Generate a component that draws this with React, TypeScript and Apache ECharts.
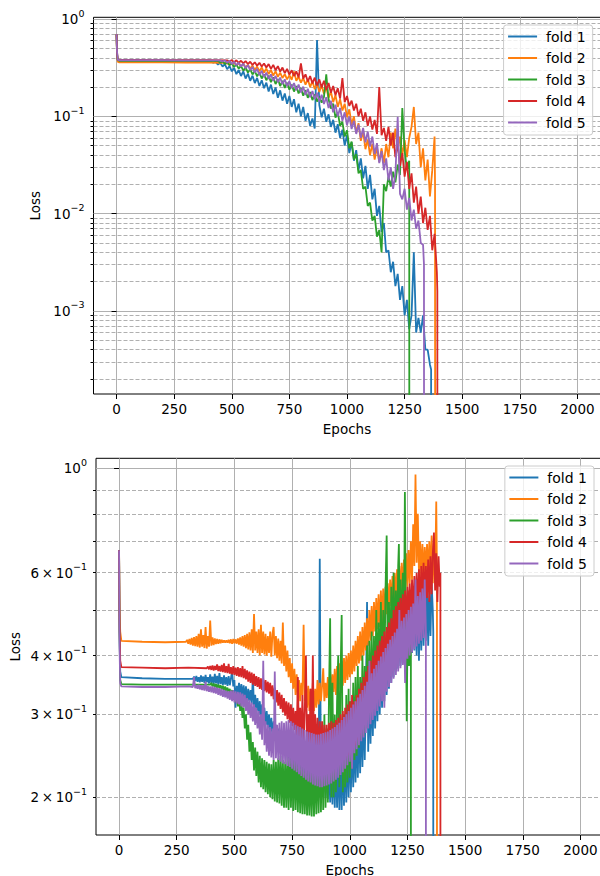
import React, { useEffect, useRef } from 'react';
import * as echarts from 'echarts';

const foldNames = ['fold 1', 'fold 2', 'fold 3', 'fold 4', 'fold 5'];
const foldColors = ['#1f77b4', '#ff7f0e', '#2ca02c', '#d62728', '#9467bd'];
const epochTicks = [0, 250, 500, 750, 1000, 1250, 1500, 1750, 2000];
const topMajorTicks = [1e-3, 1e-2, 1e-1, 1];
const topMinorTicks = [
  2e-4, 3e-4, 4e-4, 5e-4, 6e-4, 7e-4, 8e-4, 9e-4,
  2e-3, 3e-3, 4e-3, 5e-3, 6e-3, 7e-3, 8e-3, 9e-3,
  2e-2, 3e-2, 4e-2, 5e-2, 6e-2, 7e-2, 8e-2, 9e-2,
  0.2, 0.3, 0.4, 0.5, 0.6, 0.7, 0.8, 0.9,
];
const bottomMajorTicks = [1];
const bottomMinorTicks = [0.2, 0.3, 0.4, 0.5, 0.6, 0.7, 0.8, 0.9];
const bottomMinorLabels = [0.2, 0.3, 0.4, 0.6];

// Each curve = explicit [epoch, loss] start points + loss readings on a regular epoch grid + explicit end points.
// ---- top panel (training loss), readings every 10 epochs ----
const trainFold1Start: [number, number][] = [[0,0.70],[2,0.45],[5,0.375],[10,0.37],[100,0.369],[200,0.369],[300,0.368],[400,0.366]];
const trainFold1From = 410;
const trainFold1Loss = [0.364,0.356,0.362,0.34,0.355,0.325,0.345,0.305,0.33,0.29,0.315,0.272,0.3,0.26,0.29,0.245,0.275,0.232,0.262,0.22,0.248,0.205,0.235,0.195,0.222,0.18,0.212,0.17,0.198,0.155,0.185,0.145,0.172,0.135,0.162,0.125,0.15,0.11,0.135,0.1,0.125,0.09,0.108,0.08,0.095,0.075,0.61,0.13,0.098,0.12,0.088,0.105,0.078,0.092,0.068,0.083,0.06,0.073,0.05,0.064,0.042,0.054,0.035,0.045,0.028,0.037,0.023,0.031,0.018,0.025,0.014,0.018,0.0095,0.012,0.0065,0.008,0.004,0.0042,0.0025,0.0032,0.0018,0.0024,0.0013,0.0018,0.0009,0.0013,0.00065,0.0009,0.004,0.0006,0.00085,0.0006,0.0009,0.0004,0.0004,0.00028];
const trainFold1End: [number, number][] = [[1365,0.00025],[1366,1e-9]];

const trainFold2Start: [number, number][] = [[0,0.70],[2,0.43],[5,0.365],[10,0.36],[100,0.359],[200,0.359],[300,0.358],[400,0.357]];
const trainFold2From = 470;
const trainFold2Loss = [0.355,0.348,0.357,0.342,0.354,0.335,0.35,0.328,0.345,0.32,0.338,0.31,0.332,0.3,0.325,0.29,0.318,0.282,0.31,0.272,0.3,0.262,0.292,0.255,0.282,0.248,0.272,0.24,0.265,0.238,0.29,0.232,0.255,0.222,0.248,0.212,0.24,0.2,0.23,0.19,0.22,0.178,0.21,0.17,0.2,0.155,0.18,0.14,0.165,0.125,0.15,0.115,0.135,0.098,0.118,0.082,0.1,0.068,0.085,0.056,0.07,0.046,0.058,0.04,0.052,0.036,0.048,0.034,0.047,0.033,0.052,0.038,0.068,0.047,0.075,0.045,0.062,0.04,0.057,0.038,0.06,0.078,0.125,0.052,0.068,0.03,0.047,0.022,0.036,0.015,0.028,0.062];
const trainFold2End: [number, number][] = [[1382,0.02],[1383,1e-9]];

const trainFold3Start: [number, number][] = [[0,0.70],[2,0.44],[5,0.38],[10,0.375],[100,0.375],[200,0.374],[300,0.374],[400,0.373]];
const trainFold3From = 440;
const trainFold3Loss = [0.37,0.358,0.368,0.345,0.36,0.335,0.352,0.322,0.34,0.31,0.33,0.295,0.318,0.282,0.305,0.27,0.292,0.258,0.282,0.245,0.27,0.235,0.262,0.225,0.252,0.215,0.242,0.205,0.232,0.196,0.222,0.188,0.212,0.18,0.205,0.172,0.196,0.163,0.186,0.155,0.178,0.147,0.168,0.142,0.16,0.138,0.158,0.27,0.15,0.12,0.135,0.097,0.11,0.08,0.088,0.062,0.072,0.047,0.055,0.036,0.041,0.026,0.028,0.018,0.019,0.012,0.013,0.0085,0.0095,0.0058,0.0068,0.004,0.02,0.017,0.024,0.019,0.027,0.021,0.032,0.025,0.122,0.045,0.028,0.035];
const trainFold3End: [number, number][] = [[1271,1e-9]];

const trainFold4Start: [number, number][] = [[0,0.70],[2,0.46],[5,0.385],[10,0.38],[100,0.38],[200,0.379],[300,0.379],[400,0.378]];
const trainFold4From = 480;
const trainFold4Loss = [0.377,0.366,0.379,0.36,0.377,0.355,0.373,0.35,0.37,0.345,0.365,0.338,0.36,0.332,0.355,0.325,0.35,0.318,0.345,0.308,0.338,0.298,0.328,0.288,0.318,0.278,0.308,0.268,0.298,0.26,0.29,0.252,0.35,0.245,0.27,0.228,0.26,0.218,0.25,0.208,0.24,0.198,0.232,0.188,0.22,0.175,0.205,0.165,0.195,0.152,0.247,0.14,0.162,0.128,0.145,0.115,0.135,0.1,0.12,0.09,0.11,0.08,0.1,0.073,0.092,0.066,0.2,0.064,0.076,0.056,0.078,0.05,0.068,0.038,0.052,0.031,0.042,0.024,0.034,0.018,0.026,0.013,0.019,0.01,0.015,0.008,0.0115,0.0068,0.0095,0.0042,0.0062,0.0025];
const trainFold4End: [number, number][] = [[1392,0.0016],[1393,1e-9]];

const trainFold5Start: [number, number][] = [[0,0.70],[2,0.47],[5,0.383],[10,0.378],[100,0.378],[200,0.378],[300,0.377],[400,0.377]];
const trainFold5From = 450;
const trainFold5Loss = [0.376,0.366,0.377,0.356,0.372,0.345,0.364,0.336,0.357,0.326,0.348,0.312,0.336,0.298,0.322,0.282,0.308,0.266,0.294,0.254,0.282,0.242,0.27,0.232,0.26,0.224,0.25,0.214,0.24,0.204,0.23,0.195,0.22,0.186,0.212,0.176,0.202,0.166,0.192,0.157,0.182,0.15,0.175,0.142,0.167,0.134,0.157,0.122,0.145,0.11,0.132,0.1,0.122,0.09,0.11,0.081,0.1,0.074,0.09,0.066,0.082,0.06,0.076,0.054,0.07,0.049,0.062,0.041,0.053,0.033,0.044,0.028,0.037,0.022,0.03,0.018,0.025,0.099,0.016,0.014,0.018,0.011,0.0145,0.0085,0.011,0.007,0.0085,0.005,0.0048];
const trainFold5End: [number, number][] = [[1334,0.003],[1335,1e-9]];

// ---- bottom panel (validation loss), readings every 5 epochs ----
const valFold1Start: [number, number][] = [[0,0.67],[2,0.45],[5,0.37],[10,0.36],[100,0.358],[200,0.357]];
const valFold1From = 320;
const valFold1Loss = [0.357,0.361,0.353,0.362,0.352,0.36,0.351,0.363,0.352,0.361,0.35,0.364,0.351,0.36,0.349,0.365,0.35,0.361,0.348,0.366,0.349,0.362,0.347,0.367,0.348,0.36,0.346,0.363,0.347,0.36,0.345,0.362,0.346,0.358,0.372,0.344,0.355,0.31,0.345,0.332,0.35,0.328,0.348,0.325,0.346,0.322,0.344,0.318,0.34,0.32,0.338,0.315,0.362,0.31,0.33,0.305,0.325,0.3,0.32,0.295,0.315,0.29,0.31,0.285,0.305,0.28,0.3,0.275,0.295,0.27,0.29,0.265,0.285,0.26,0.28,0.255,0.278,0.25,0.275,0.248,0.272,0.245,0.27,0.242,0.268,0.24,0.265,0.237,0.262,0.234,0.26,0.232,0.258,0.23,0.255,0.227,0.252,0.225,0.25,0.222,0.248,0.22,0.245,0.218,0.243,0.215,0.24,0.213,0.238,0.21,0.642,0.215,0.245,0.205,0.24,0.2,0.245,0.198,0.24,0.195,0.245,0.193,0.25,0.19,0.245,0.19,0.25,0.188,0.255,0.188,0.258,0.192,0.26,0.195,0.265,0.2,0.27,0.205,0.275,0.21,0.28,0.215,0.29,0.22,0.3,0.225,0.31,0.232,0.32,0.24,0.33,0.52,0.25,0.34,0.26,0.35,0.27,0.36,0.28,0.37,0.29,0.38,0.3,0.39,0.31,0.4,0.32,0.41,0.33,0.42,0.34,0.43,0.35,0.44,0.36,0.45,0.37,0.46,0.375,0.47,0.38,0.48,0.385,0.57,0.39,0.49,0.395,0.5,0.4,0.51,0.405,0.52,0.41,0.53,0.4,0.54,0.39,0.55,0.41,0.55,0.42,0.56,0.43,0.56,0.42,0.55,0.44,0.57,0.5];
const valFold1End: [number, number][] = [[1362,0.45],[1363,1e-9]];

const valFold2Start: [number, number][] = [[0,0.67],[2,0.5],[5,0.45],[10,0.43],[100,0.428],[200,0.427]];
const valFold2From = 290;
const valFold2Loss = [0.428,0.432,0.424,0.434,0.422,0.436,0.42,0.438,0.419,0.44,0.418,0.445,0.416,0.455,0.418,0.442,0.415,0.46,0.414,0.44,0.418,0.475,0.42,0.437,0.421,0.435,0.423,0.434,0.424,0.433,0.425,0.432,0.426,0.431,0.426,0.431,0.426,0.432,0.425,0.433,0.424,0.434,0.425,0.433,0.424,0.435,0.422,0.437,0.42,0.44,0.418,0.442,0.415,0.445,0.412,0.448,0.41,0.455,0.405,0.49,0.41,0.45,0.405,0.455,0.4,0.465,0.405,0.45,0.402,0.445,0.4,0.44,0.405,0.45,0.398,0.445,0.46,0.4,0.44,0.395,0.435,0.39,0.43,0.385,0.47,0.38,0.42,0.37,0.41,0.36,0.395,0.35,0.385,0.34,0.375,0.33,0.365,0.325,0.355,0.32,0.35,0.33,0.465,0.32,0.35,0.31,0.345,0.305,0.34,0.31,0.35,0.305,0.34,0.31,0.355,0.315,0.35,0.32,0.345,0.376,0.32,0.35,0.325,0.36,0.32,0.37,0.33,0.365,0.335,0.375,0.33,0.38,0.34,0.385,0.34,0.39,0.345,0.395,0.35,0.4,0.355,0.405,0.36,0.41,0.365,0.42,0.37,0.43,0.38,0.44,0.385,0.45,0.39,0.46,0.4,0.47,0.41,0.48,0.42,0.5,0.43,0.51,0.44,0.52,0.45,0.53,0.455,0.54,0.46,0.55,0.47,0.555,0.48,0.56,0.49,0.57,0.5,0.58,0.51,0.59,0.52,0.6,0.525,0.61,0.53,0.62,0.54,0.63,0.55,0.64,0.555,0.66,0.56,0.67,0.57,0.7,0.58,0.76,0.62,0.97,0.63,0.8,0.6,0.7,0.59,0.69,0.58,0.68,0.6,0.69,0.59,0.7,0.6,0.72,0.57,0.68,0.58,0.85];
const valFold2End: [number, number][] = [[1378,0.6],[1380,1e-9]];

const valFold3Start: [number, number][] = [[0,0.67],[2,0.45],[5,0.355],[10,0.348],[100,0.347],[200,0.347],[300,0.347]];
const valFold3From = 395;
const valFold3Loss = [0.347,0.35,0.344,0.349,0.343,0.348,0.342,0.347,0.341,0.346,0.339,0.345,0.337,0.344,0.335,0.342,0.333,0.34,0.328,0.338,0.322,0.334,0.318,0.33,0.312,0.326,0.305,0.32,0.295,0.31,0.28,0.3,0.265,0.285,0.25,0.275,0.24,0.262,0.228,0.255,0.222,0.25,0.215,0.245,0.21,0.242,0.208,0.24,0.205,0.238,0.203,0.236,0.2,0.235,0.198,0.24,0.196,0.238,0.195,0.242,0.194,0.245,0.192,0.24,0.19,0.238,0.19,0.245,0.188,0.25,0.19,0.248,0.187,0.25,0.188,0.245,0.186,0.24,0.185,0.238,0.184,0.235,0.184,0.232,0.183,0.228,0.183,0.235,0.182,0.24,0.182,0.245,0.184,0.25,0.185,0.27,0.186,0.26,0.188,0.3,0.19,0.28,0.195,0.33,0.48,0.2,0.35,0.2,0.3,0.205,0.32,0.4,0.21,0.36,0.488,0.205,0.3,0.21,0.33,0.215,0.34,0.22,0.32,0.23,0.35,0.24,0.36,0.245,0.38,0.255,0.36,0.265,0.4,0.27,0.38,0.28,0.42,0.29,0.43,0.3,0.45,0.31,0.44,0.32,0.5,0.33,0.47,0.34,0.52,0.35,0.5,0.36,0.55,0.72,0.37,0.52,0.38,0.56,0.39,0.6,0.4,0.55,0.41,0.62];
const valFold3End: [number, number][] = [[1213,0.69],[1217,0.42],[1220,0.58],[1225,0.43],[1230,0.6],[1235,0.44],[1239,0.89],[1243,0.5],[1247,0.29],[1252,0.55],[1257,0.38],[1262,0.5],[1265,0.45],[1266,1e-9]];

const valFold4Start: [number, number][] = [[0,0.67],[2,0.47],[5,0.39],[10,0.378],[100,0.377],[200,0.376],[300,0.377]];
const valFold4From = 380;
const valFold4Loss = [0.376,0.379,0.374,0.38,0.373,0.381,0.372,0.38,0.373,0.383,0.371,0.38,0.37,0.382,0.369,0.385,0.368,0.38,0.367,0.384,0.366,0.378,0.365,0.38,0.364,0.377,0.362,0.378,0.361,0.376,0.36,0.38,0.358,0.375,0.356,0.372,0.352,0.37,0.35,0.368,0.347,0.366,0.345,0.362,0.343,0.36,0.34,0.358,0.338,0.357,0.336,0.355,0.334,0.352,0.332,0.35,0.328,0.346,0.323,0.342,0.318,0.338,0.313,0.334,0.308,0.33,0.303,0.325,0.298,0.32,0.293,0.318,0.288,0.315,0.283,0.31,0.278,0.305,0.27,0.36,0.265,0.31,0.26,0.33,0.255,0.305,0.4,0.255,0.3,0.25,0.34,0.25,0.4,0.248,0.3,0.245,0.295,0.242,0.29,0.24,0.29,0.238,0.285,0.235,0.285,0.233,0.288,0.232,0.29,0.233,0.288,0.234,0.292,0.235,0.295,0.236,0.3,0.238,0.305,0.24,0.31,0.243,0.315,0.246,0.32,0.25,0.33,0.255,0.32,0.258,0.33,0.265,0.34,0.272,0.35,0.28,0.36,0.288,0.37,0.296,0.38,0.305,0.39,0.315,0.4,0.325,0.41,0.335,0.42,0.345,0.43,0.355,0.44,0.365,0.45,0.375,0.46,0.385,0.47,0.395,0.48,0.405,0.5,0.42,0.51,0.43,0.52,0.44,0.53,0.45,0.54,0.455,0.55,0.46,0.56,0.465,0.57,0.47,0.58,0.48,0.59,0.49,0.6,0.5,0.61,0.5,0.62,0.51,0.63,0.52,0.62,0.53,0.64,0.52,0.65,0.54,0.66,0.73,0.55,0.66,0.52,0.65,0.56];
const valFold4End: [number, number][] = [[1393,0.6],[1394,1e-9]];

const valFold5Start: [number, number][] = [[0,0.67],[2,0.42],[5,0.35],[10,0.344],[100,0.343],[200,0.343],[300,0.344]];
const valFold5From = 320;
const valFold5Loss = [0.343,0.36,0.341,0.346,0.34,0.347,0.339,0.346,0.338,0.346,0.337,0.352,0.336,0.345,0.335,0.344,0.334,0.344,0.333,0.343,0.332,0.342,0.33,0.341,0.329,0.34,0.327,0.338,0.326,0.337,0.324,0.336,0.322,0.337,0.32,0.338,0.318,0.336,0.316,0.335,0.315,0.334,0.312,0.332,0.31,0.33,0.305,0.325,0.3,0.322,0.295,0.318,0.29,0.315,0.285,0.31,0.28,0.305,0.272,0.3,0.265,0.39,0.258,0.29,0.25,0.285,0.245,0.282,0.243,0.28,0.24,0.37,0.242,0.285,0.24,0.288,0.238,0.29,0.236,0.288,0.235,0.29,0.233,0.292,0.232,0.29,0.23,0.288,0.228,0.285,0.226,0.283,0.224,0.282,0.222,0.28,0.22,0.278,0.218,0.276,0.216,0.275,0.215,0.274,0.213,0.273,0.212,0.272,0.211,0.272,0.21,0.273,0.21,0.274,0.211,0.275,0.212,0.276,0.213,0.278,0.214,0.28,0.216,0.282,0.218,0.285,0.22,0.288,0.223,0.292,0.226,0.296,0.23,0.3,0.234,0.305,0.238,0.31,0.23,0.315,0.248,0.32,0.253,0.326,0.258,0.332,0.263,0.338,0.268,0.345,0.274,0.352,0.28,0.39,0.286,0.367,0.292,0.375,0.298,0.382,0.305,0.39,0.312,0.398,0.32,0.407,0.31,0.415,0.335,0.424,0.343,0.432,0.35,0.44,0.357,0.448,0.364,0.456,0.37,0.5,0.376,0.474,0.382,0.482,0.35,0.49,0.394,0.5,0.4,0.508,0.406,0.516,0.412,0.58,0.418,0.535,0.424,0.545,0.43,0.555,0.436,0.58,0.45];
const valFold5End: [number, number][] = [[1333,1e-9]];

function buildCurve(start: [number, number][], from: number, step: number, loss: number[], end: [number, number][]) {
  return [...start, ...loss.map((v, i) => [from + i * step, v] as [number, number]), ...end];
}

const trainFolds = [
  buildCurve(trainFold1Start, trainFold1From, 10, trainFold1Loss, trainFold1End),
  buildCurve(trainFold2Start, trainFold2From, 10, trainFold2Loss, trainFold2End),
  buildCurve(trainFold3Start, trainFold3From, 10, trainFold3Loss, trainFold3End),
  buildCurve(trainFold4Start, trainFold4From, 10, trainFold4Loss, trainFold4End),
  buildCurve(trainFold5Start, trainFold5From, 10, trainFold5Loss, trainFold5End),
];
const valFolds = [
  buildCurve(valFold1Start, valFold1From, 5, valFold1Loss, valFold1End),
  buildCurve(valFold2Start, valFold2From, 5, valFold2Loss, valFold2End),
  buildCurve(valFold3Start, valFold3From, 5, valFold3Loss, valFold3End),
  buildCurve(valFold4Start, valFold4From, 5, valFold4Loss, valFold4End),
  buildCurve(valFold5Start, valFold5From, 5, valFold5Loss, valFold5End),
];

const FONT = 'DejaVu Sans';
const GRID_COLOR = '#b0b0b0';

function supLabel(v: number): string {
  const e = Math.floor(Math.log10(v) + 1e-9);
  const m = Math.round(v / Math.pow(10, e));
  const expStr = e < 0 ? '\u2212' + -e : String(e);
  const base = m === 1 ? '10' : m + '\u2009\u00d7\u200910';
  return '{b|' + base + '}{s|' + expStr + '}';
}

const richLabel = {
  b: { fontSize: 13.5, fontFamily: FONT, color: '#000', lineHeight: 22 },
  s: { fontSize: 9.5, fontFamily: FONT, color: '#000', lineHeight: 11, verticalAlign: 'top' },
};

function xAxisFor(gridIndex: number) {
  return {
    type: 'value', gridIndex, min: -100, max: 2100,
    axisLine: { show: false },
    axisTick: { show: true, customValues: epochTicks, length: 5, lineStyle: { color: '#000', width: 1 } },
    axisLabel: { show: true, customValues: epochTicks, margin: 8, fontSize: 13.5, fontFamily: FONT, color: '#000', formatter: (v: number) => String(v) },
    splitLine: { show: true, lineStyle: { color: GRID_COLOR, width: 1 } },
    minorTick: { show: false }, minorSplitLine: { show: false },
    name: 'Epochs', nameLocation: 'middle', nameGap: 28,
    nameTextStyle: { fontSize: 13.5, fontFamily: FONT, color: '#000' },
  };
}

function majorYAxis(gridIndex: number, min: number, max: number, ticks: number[], nameGap: number) {
  return {
    type: 'log', logBase: 10, gridIndex, min, max, position: 'left',
    axisLine: { show: false },
    axisTick: { show: true, customValues: ticks, length: 5, lineStyle: { color: '#000', width: 1 } },
    axisLabel: { show: true, customValues: ticks, margin: 9, formatter: (v: number) => supLabel(v), rich: richLabel },
    splitLine: { show: true, lineStyle: { color: GRID_COLOR, width: 1 } },
    minorTick: { show: false }, minorSplitLine: { show: false },
    name: 'Loss', nameLocation: 'middle', nameGap,
    nameTextStyle: { fontSize: 13.5, fontFamily: FONT, color: '#000' },
  };
}

function minorYAxis(gridIndex: number, min: number, max: number, ticks: number[], labels: number[] | null) {
  return {
    type: 'log', logBase: 10, gridIndex, min, max, position: 'left', offset: 0,
    axisLine: { show: false },
    axisTick: { show: true, customValues: ticks, length: 3, lineStyle: { color: '#000', width: 1 } },
    axisLabel: labels
      ? { show: true, customValues: labels, margin: 9, formatter: (v: number) => supLabel(v), rich: richLabel }
      : { show: false },
    splitLine: { show: true, lineStyle: { color: GRID_COLOR, width: 1, type: [4, 2] } },
    minorTick: { show: false }, minorSplitLine: { show: false },
  };
}

function legendFor(top: number, right: number) {
  return {
    data: foldNames, orient: 'vertical', top, right,
    icon: 'rect', itemWidth: 29, itemHeight: 2, itemGap: 6.5,
    padding: [4, 7, 5, 4.5],
    backgroundColor: 'rgba(255,255,255,0.8)', borderColor: '#cccccc', borderWidth: 1, borderRadius: 3,
    textStyle: { fontSize: 14, fontFamily: FONT, color: '#000', lineHeight: 15, padding: [0, 0, 0, 4] },
    selectedMode: false,
  };
}

export default function App() {
  const ref = useRef<HTMLDivElement>(null);
  useEffect(() => {
    document.body.style.margin = '0';
    if (!ref.current) return;
    const chart = echarts.init(ref.current, undefined, { renderer: 'svg' });
    const lineSeries = (data: [number, number][], i: number, xi: number, yi: number) => ({
      type: 'line', name: foldNames[i], xAxisIndex: xi, yAxisIndex: yi, data,
      showSymbol: false, symbol: 'none', clip: true, silent: true,
      lineStyle: { color: foldColors[i], width: 1.8 }, itemStyle: { color: foldColors[i] },
      emphasis: { disabled: true },
    });
    chart.setOption({
      animation: false,
      textStyle: { fontFamily: FONT },
      grid: [
        { left: 93.5, top: 17.3, width: 507, height: 376.7, show: true, borderColor: '#000', borderWidth: 1, backgroundColor: 'transparent', containLabel: false, outerBoundsMode: 'none' },
        { left: 96, top: 458.3, width: 507.5, height: 376.7, show: true, borderColor: '#000', borderWidth: 1, backgroundColor: 'transparent', containLabel: false, outerBoundsMode: 'none' },
      ],
      xAxis: [xAxisFor(0), xAxisFor(1)],
      yAxis: [
        majorYAxis(0, 1.4e-4, 1.043, topMajorTicks, 50),
        minorYAxis(0, 1.4e-4, 1.043, topMinorTicks, null),
        majorYAxis(1, 0.1663, 1.05, bottomMajorTicks, 74),
        minorYAxis(1, 0.1663, 1.05, bottomMinorTicks, bottomMinorLabels),
      ],
      legend: [legendFor(25, 7.3), legendFor(466, 6)],
      series: [
        ...trainFolds.map((d, i) => lineSeries(d, i, 0, 0)),
        ...valFolds.map((d, i) => lineSeries(d, i, 1, 2)),
      ],
    });
    return () => chart.dispose();
  }, []);
  return <div ref={ref} style={{ width: 600, height: 876 }} />;
}
